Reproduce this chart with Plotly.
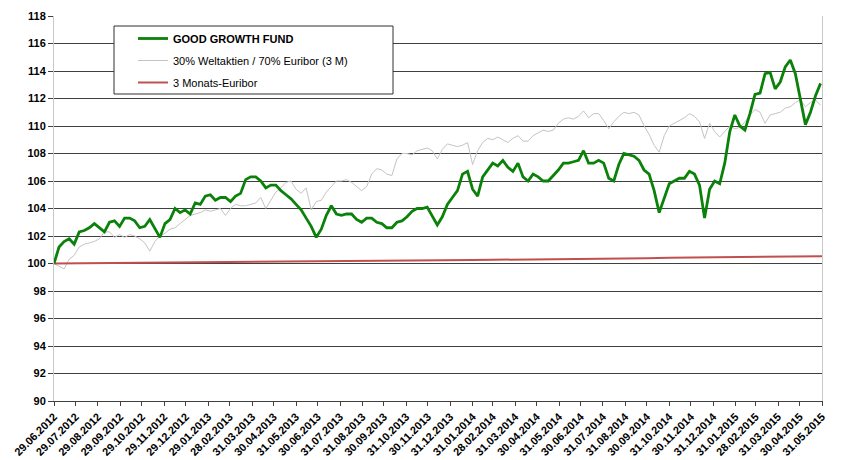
import pandas as pd
import plotly.graph_objects as go

# ---- data ----
start_date = "2012-06-29"   # weekly observations
fund_name = "GOOD GROWTH FUND"
bench_name = "30% Weltaktien / 70% Euribor (3 M)"
euribor_name = "3 Monats-Euribor"

fund = [100.0, 101.2, 101.6, 101.8, 101.4, 102.3, 102.4, 102.6, 102.9, 102.6,
        102.3, 103.0, 103.1, 102.7, 103.3, 103.3, 103.1, 102.6, 102.7, 103.2,
        102.6, 101.9, 102.9, 103.2, 104.0, 103.7, 103.9, 103.6, 104.4, 104.3,
        104.9, 105.0, 104.6, 104.8, 104.8, 104.5, 104.9, 105.1, 106.1, 106.3,
        106.3, 106.0, 105.5, 105.7, 105.7, 105.3, 105.0, 104.7, 104.3, 103.9,
        103.3, 102.7, 101.9, 102.5, 103.5, 104.2, 103.6, 103.5, 103.6, 103.6,
        103.2, 103.0, 103.3, 103.3, 103.0, 102.9, 102.6, 102.6, 103.0, 103.1,
        103.4, 103.8, 104.0, 104.0, 104.1, 103.5, 102.8, 103.4, 104.3, 104.8,
        105.3, 106.5, 106.7, 105.4, 104.9, 106.3, 106.8, 107.3, 107.1, 107.5,
        107.0, 106.7, 107.3, 106.3, 106.0, 106.5, 106.3, 106.0, 106.0, 106.4,
        106.8, 107.3, 107.3, 107.4, 107.5, 108.2, 107.3, 107.3, 107.5, 107.3,
        106.2, 106.0, 107.2, 108.0, 107.9, 107.8, 107.5, 106.8, 106.5, 105.3,
        103.7, 104.8, 105.8, 106.0, 106.2, 106.2, 106.7, 106.5, 105.7, 103.3,
        105.4, 106.0, 105.8, 107.3, 109.6, 110.8, 110.0, 109.7, 110.9, 112.3,
        112.4, 113.8, 113.9, 112.7, 113.2, 114.3, 114.8, 113.8, 111.8, 110.1,
        111.0, 112.2, 113.1]

bench = [100.0, 99.8, 99.6, 100.3, 100.6, 101.2, 101.4, 101.5, 101.6, 101.8,
         102.3, 102.3, 101.9, 102.1, 101.9, 102.1, 102.0, 101.8, 101.5, 100.9,
         101.6, 102.0, 102.2, 102.5, 102.6, 102.9, 103.2, 103.5, 103.6, 103.7,
         103.9, 103.8, 103.9, 104.0, 103.5, 104.0, 104.3, 104.2, 104.2, 104.3,
         104.4, 104.8, 104.0, 104.6, 105.2, 105.5, 105.9, 106.0, 105.4, 105.1,
         105.5, 103.9, 104.5, 104.6, 105.2, 105.6, 106.0, 106.0, 106.1, 105.9,
         105.6, 105.3, 105.6, 106.5, 106.9, 106.8, 106.5, 106.4, 107.6, 108.0,
         108.0, 107.9, 108.2, 108.3, 108.4, 108.2, 107.6, 108.3, 108.7, 108.6,
         108.5, 108.6, 108.8, 107.2, 108.2, 108.8, 109.1, 109.0, 109.2, 109.0,
         108.8, 109.1, 109.3, 108.9, 108.9, 109.3, 109.5, 109.7, 109.6, 109.7,
         110.2, 110.5, 110.6, 110.5, 110.7, 111.1, 110.6, 110.9, 110.9, 110.4,
         109.8, 110.3, 110.7, 111.0, 110.9, 111.0, 110.8, 110.0, 109.4, 108.6,
         108.1, 109.3, 110.0, 110.2, 110.4, 110.6, 110.9, 110.7, 110.3, 109.1,
         110.2, 109.6, 109.2, 109.6, 110.0, 109.8, 109.9, 110.3, 110.8, 111.2,
         111.0, 110.2, 110.8, 110.9, 111.0, 111.3, 111.4, 111.7, 111.9, 111.4,
         111.7, 111.9, 111.5]

tick_labels = ["29.06.2012", "29.07.2012", "29.08.2012", "29.09.2012", "29.10.2012",
               "29.11.2012", "29.12.2012", "29.01.2013", "28.02.2013", "31.03.2013",
               "30.04.2013", "31.05.2013", "30.06.2013", "31.07.2013", "31.08.2013",
               "30.09.2013", "31.10.2013", "30.11.2013", "31.12.2013", "31.01.2014",
               "28.02.2014", "31.03.2014", "30.04.2014", "31.05.2014", "30.06.2014",
               "31.07.2014", "31.08.2014", "30.09.2014", "31.10.2014", "30.11.2014",
               "31.12.2014", "31.01.2015", "28.02.2015", "31.03.2015", "30.04.2015",
               "31.05.2015"]

euribor = [100.00, 100.01, 100.03, 100.05, 100.06, 100.07, 100.09, 100.10, 100.11,
           100.12, 100.13, 100.14, 100.16, 100.17, 100.18, 100.20, 100.21, 100.22,
           100.24, 100.25, 100.27, 100.28, 100.30, 100.31, 100.33, 100.35, 100.37,
           100.39, 100.41, 100.43, 100.45, 100.47, 100.49, 100.51, 100.52, 100.53]

y_ticks = list(range(90, 119, 2))

# ---- build ----
weekly_dates = pd.date_range(start_date, periods=len(fund), freq="7D")
tick_dates = pd.to_datetime(tick_labels, format="%d.%m.%Y")

FONT = "Liberation Sans, Arial, sans-serif"

# page offset of the figure (browser body margin)
OFF = 8
PX0, PX1, PY0, PY1 = 54, 822, 16, 401   # plot area in page pixels


def px(x):
    return (x - PX0) / (PX1 - PX0)


def py(y):
    return 1 - (y - PY0) / (PY1 - PY0)


fig = go.Figure()
fig.add_trace(go.Scatter(x=weekly_dates, y=bench, mode="lines", name=bench_name,
                         legendgroup="b", legendrank=2,
                         line=dict(color="#c4c4c4", width=1)))
fig.add_trace(go.Scatter(x=tick_dates, y=euribor, mode="lines", name=euribor_name,
                         legendgroup="c", legendrank=3,
                         line=dict(color="#c0504d", width=2)))
fig.add_trace(go.Scatter(x=weekly_dates, y=fund, mode="lines", name="<b>" + fund_name + "</b>",
                         legendgroup="a", legendrank=1,
                         line=dict(color="#0a820a", width=2.8)))

W, H = 846 - OFF, 460 - OFF
fig.update_layout(
    width=W, height=H,
    template="none",
    paper_bgcolor="white", plot_bgcolor="white",
    margin=dict(l=PX0 - OFF, r=W - (PX1 - OFF), t=PY0 - OFF, b=H - (PY1 - OFF)),
    font=dict(family=FONT, color="black", size=11),
    showlegend=True,
    legend=dict(
        x=px(133), y=py(24),
        xanchor="left", yanchor="top",
        bgcolor="rgba(0,0,0,0)", borderwidth=0,
        font=dict(family=FONT, size=11, color="black"),
        tracegroupgap=3, traceorder="grouped",
    ),
    shapes=[dict(type="rect", xref="paper", yref="paper",
                 x0=px(114), x1=px(393), y0=py(94), y1=py(26),
                 line=dict(color="#303030", width=1), fillcolor="white",
                 layer="above")],
    xaxis=dict(
        type="date", range=[tick_dates[0], tick_dates[-1]],
        tickmode="array", tickvals=tick_dates, ticktext=tick_labels,
        tickangle=-45, showgrid=False, zeroline=False,
        showline=True, linecolor="#404040", linewidth=1,
        ticks="outside", ticklen=4, tickcolor="#404040",
        tickfont=dict(family=FONT, size=11, weight="bold", color="black"),
        automargin=False,
    ),
    yaxis=dict(
        range=[90, 118], tickmode="array", tickvals=y_ticks,
        showgrid=True, gridcolor="#404040", gridwidth=1, zeroline=False,
        showline=True, linecolor="#c8c8c8", linewidth=1, mirror=True,
        ticks="outside", ticklen=5, tickcolor="#404040",
        tickfont=dict(family=FONT, size=11, weight="bold", color="black"),
        automargin=False,
    ),
)

fig.write_html("out.html")
